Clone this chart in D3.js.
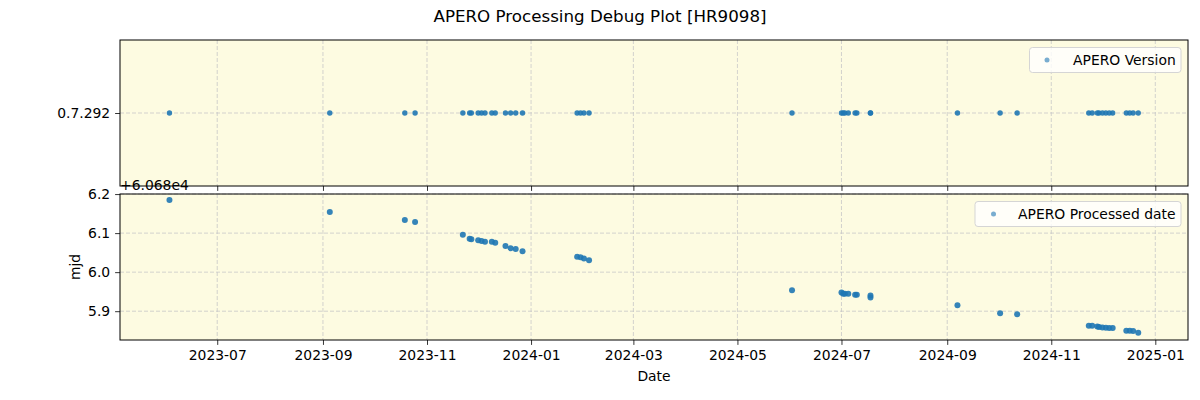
<!DOCTYPE html>
<html>
<head>
<meta charset="utf-8">
<script src="https://cdn.jsdelivr.net/npm/d3@7"></script>
<style>
  html, body { margin: 0; padding: 0; background: #ffffff; }
  svg { display: block; font-family: "DejaVu Sans", sans-serif; }
</style>
</head>
<body>
<svg id="chart" width="1200" height="400"></svg>
<script>
// ---- data ----
const obsDates = [
  "2023-06-03","2023-09-05","2023-10-19","2023-10-25",
  "2023-11-22","2023-11-26","2023-11-27","2023-12-01","2023-12-03","2023-12-05",
  "2023-12-09","2023-12-11","2023-12-17","2023-12-20","2023-12-23","2023-12-27",
  "2024-01-28","2024-01-30","2024-02-01","2024-02-04",
  "2024-06-02","2024-07-01","2024-07-02","2024-07-03","2024-07-05","2024-07-09",
  "2024-07-10","2024-07-18","2024-07-18",
  "2024-09-07","2024-10-02","2024-10-12",
  "2024-11-23","2024-11-25","2024-11-28","2024-11-29","2024-12-01","2024-12-03",
  "2024-12-05","2024-12-07","2024-12-15","2024-12-17","2024-12-19","2024-12-22"
];
const processedMjd = [
  60686.1846, 60686.1538, 60686.1333, 60686.1282,
  60686.0956, 60686.0854, 60686.0846, 60686.0820, 60686.0795, 60686.0777,
  60686.0777, 60686.0751, 60686.0667, 60686.0615, 60686.0590, 60686.0538,
  60686.0392, 60686.0384, 60686.0349, 60686.0308,
  60685.9538, 60685.9480, 60685.9446, 60685.9446, 60685.9446, 60685.9420,
  60685.9420, 60685.9400, 60685.9350,
  60685.9154, 60685.8949, 60685.8923,
  60685.8628, 60685.8628, 60685.8610, 60685.8592, 60685.8585, 60685.8577,
  60685.8567, 60685.8567, 60685.8497, 60685.8497, 60685.8490, 60685.8446
];
const versions = obsDates.map(() => "0.7.292");
const versionCategories = ["0.7.292"];
const xTickLabels = ["2023-07","2023-09","2023-11","2024-01","2024-03","2024-05","2024-07","2024-09","2024-11","2025-01"];
const mjdTicks = [60685.9, 60686.0, 60686.1, 60686.2];
const mjdOffset = 60680;
const xDomain = ["2023-05-05T00:00:00Z", "2025-01-20T04:00:00Z"];
const mjdDomain = [60685.8262, 60686.2002];
const titleText = "APERO Processing Debug Plot [HR9098]";
const legendTop = "APERO Version";
const legendBottom = "APERO Processed date";

// ---- layout ----
const svg = d3.select("#chart");
const L = 120, R = 1188;
const top1 = 40, bot1 = 186, top2 = 194, bot2 = 340;
const bg = "#fdfbe1";
const ptColor = "#1f77b4";
const fontSize = 13.9;

const parse = d3.utcParse("%Y-%m-%d");
const parseIso = d3.isoParse;
const x = d3.scaleUtc().domain(xDomain.map(parseIso)).range([L, R]);
const yTop = d3.scalePoint().domain(versionCategories).range([bot1, top1]).padding(0.5);
const yBot = d3.scaleLinear().domain(mjdDomain).range([bot2, top2]);
const xTickDates = xTickLabels.map(s => d3.utcParse("%Y-%m")(s));

const data = obsDates.map((d, i) => ({ date: parse(d), mjd: processedMjd[i], ver: versions[i] }));

// title
svg.append("text").attr("x", 600).attr("y", 22).attr("text-anchor", "middle")
  .attr("font-size", 16.7).attr("fill", "#000").text(titleText);

function panel(y0, y1) {
  svg.append("rect").attr("x", L).attr("y", y0).attr("width", R - L).attr("height", y1 - y0)
    .attr("fill", bg);
}
function grid(y0, y1, yVals, yScale) {
  const gg = svg.append("g");
  gg.selectAll("line.vx").data(xTickDates).enter().append("line")
    .attr("x1", d => x(d)).attr("x2", d => x(d)).attr("y1", y0).attr("y2", y1)
    .attr("stroke", "#c8c8c8").attr("stroke-width", 0.8).attr("stroke-dasharray", "4,2");
  gg.selectAll("line.hy").data(yVals).enter().append("line")
    .attr("x1", L).attr("x2", R).attr("y1", d => yScale(d)).attr("y2", d => yScale(d))
    .attr("stroke", "#c8c8c8").attr("stroke-width", 0.8).attr("stroke-dasharray", "4,2");
}
function frame(y0, y1) {
  svg.append("rect").attr("x", L).attr("y", y0).attr("width", R - L).attr("height", y1 - y0)
    .attr("fill", "none").attr("stroke", "#000").attr("stroke-width", 1);
}
function styleAxis(g) {
  g.selectAll(".domain").remove();
  g.selectAll("line").attr("stroke", "#000").attr("stroke-width", 0.8);
  g.selectAll("text").attr("font-size", fontSize).attr("fill", "#000")
    .attr("font-family", "DejaVu Sans, sans-serif");
}
function legend(x0, y0, w, h, label, mx, tx) {
  const g = svg.append("g");
  g.append("rect").attr("x", x0).attr("y", y0).attr("width", w).attr("height", h)
    .attr("rx", 3).attr("fill", "#ffffff").attr("fill-opacity", 0.8)
    .attr("stroke", "#d5d5d5").attr("stroke-width", 1);
  g.append("circle").attr("cx", mx).attr("cy", y0 + h / 2).attr("r", 2.5)
    .attr("fill", ptColor).attr("fill-opacity", 0.6);
  g.append("text").attr("x", tx).attr("y", y0 + h / 2 + 5).attr("font-size", fontSize)
    .attr("fill", "#000").text(label);
}

// ---- top panel ----
panel(top1, bot1);
grid(top1, bot1, versionCategories, yTop);
svg.append("g").selectAll("circle").data(data).enter().append("circle")
  .attr("cx", d => x(d.date)).attr("cy", d => yTop(d.ver)).attr("r", 2.7)
  .attr("fill", ptColor).attr("fill-opacity", 0.9);
frame(top1, bot1);
const ayTop = svg.append("g").attr("transform", `translate(${L},0)`)
  .call(d3.axisLeft(yTop).tickSize(4.9).tickPadding(4.9));
styleAxis(ayTop);
const axTop = svg.append("g").attr("transform", `translate(0,${bot1})`)
  .call(d3.axisBottom(x).tickValues(xTickDates).tickSize(4.9).tickFormat(""));
styleAxis(axTop);
legend(1029.5, 47.5, 151.5, 25, legendTop, 1047, 1073);

// ---- bottom panel ----
panel(top2, bot2);
grid(top2, bot2, mjdTicks, yBot);
svg.append("g").selectAll("circle").data(data).enter().append("circle")
  .attr("cx", d => x(d.date)).attr("cy", d => yBot(d.mjd)).attr("r", 3)
  .attr("fill", ptColor).attr("fill-opacity", 0.9);
frame(top2, bot2);
const ayBot = svg.append("g").attr("transform", `translate(${L},0)`)
  .call(d3.axisLeft(yBot).tickValues(mjdTicks).tickSize(4.9).tickPadding(4.9)
    .tickFormat(d => (d - mjdOffset).toFixed(1)));
styleAxis(ayBot);
const axBot = svg.append("g").attr("transform", `translate(0,${bot2})`)
  .call(d3.axisBottom(x).tickValues(xTickDates).tickSize(4.9).tickPadding(4.9)
    .tickFormat(d3.utcFormat("%Y-%m")));
styleAxis(axBot);
legend(975, 201.5, 206, 25, legendBottom, 993.5, 1018);

// offset text
svg.append("text").attr("x", 120).attr("y", 190).attr("font-size", fontSize)
  .attr("fill", "#000").text("+6.068e4");

// axis labels
svg.append("text").attr("x", 654).attr("y", 381).attr("text-anchor", "middle")
  .attr("font-size", fontSize).attr("fill", "#000").text("Date");
svg.append("text").attr("transform", `translate(80,${(top2 + bot2) / 2}) rotate(-90)`)
  .attr("text-anchor", "middle").attr("font-size", fontSize).attr("fill", "#000").text("mjd");
</script>
</body>
</html>
